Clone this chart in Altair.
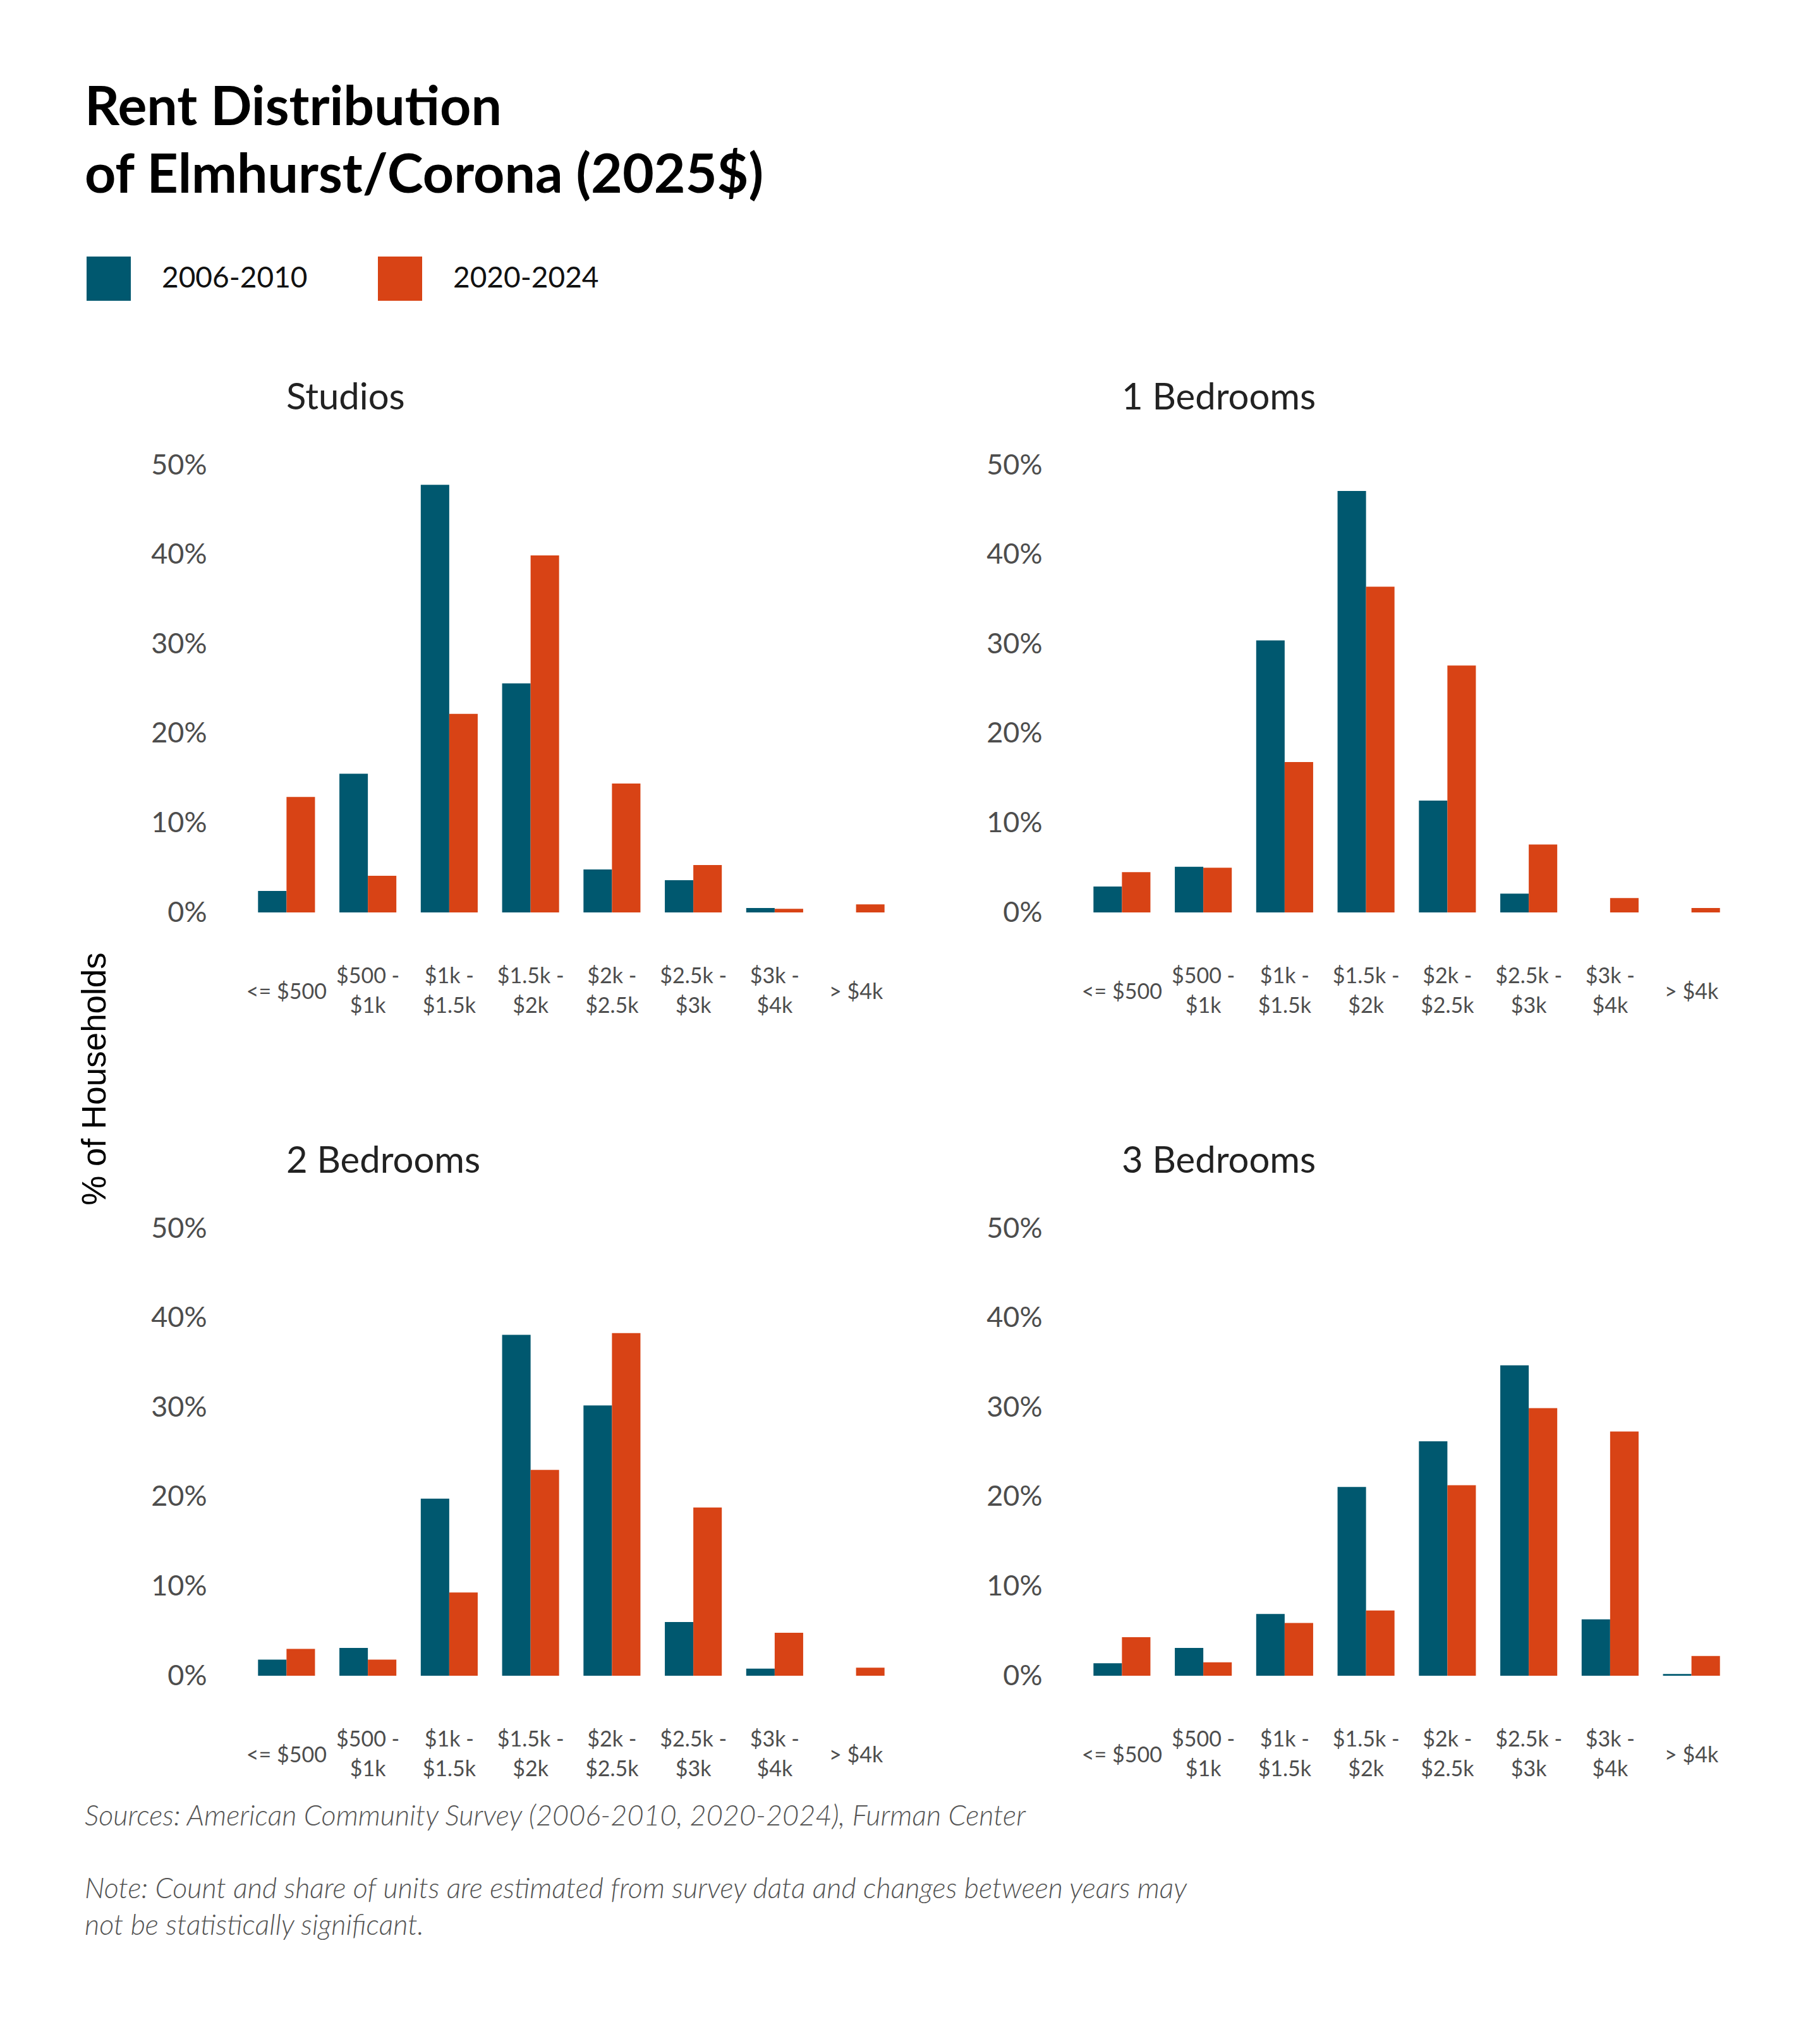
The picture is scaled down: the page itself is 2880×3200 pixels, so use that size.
import altair as alt
import pandas as pd

buckets = ["<= $500", "$500 - $1k", "$1k - $1.5k", "$1.5k - $2k",
           "$2k - $2.5k", "$2.5k - $3k", "$3k - $4k", "> $4k"]
periods = ["2006-2010", "2020-2024"]
panels = ["Studios", "1 Bedrooms", "2 Bedrooms", "3 Bedrooms"]

studios_2006 = [2.4, 15.5, 47.8, 25.6, 4.8, 3.6, 0.5, 0.0]
studios_2020 = [12.9, 4.1, 22.2, 39.9, 14.4, 5.3, 0.4, 0.9]
br1_2006 = [2.9, 5.1, 30.4, 47.1, 12.5, 2.1, 0.0, 0.0]
br1_2020 = [4.5, 5.0, 16.8, 36.4, 27.6, 7.6, 1.6, 0.5]
br2_2006 = [1.8, 3.1, 19.8, 38.1, 30.2, 6.0, 0.8, 0.0]
br2_2020 = [3.0, 1.8, 9.3, 23.0, 38.3, 18.8, 4.8, 0.9]
br3_2006 = [1.4, 3.1, 6.9, 21.1, 26.2, 34.7, 6.3, 0.2]
br3_2020 = [4.3, 1.5, 5.9, 7.3, 21.3, 29.9, 27.3, 2.2]

series = {
    "Studios": (studios_2006, studios_2020),
    "1 Bedrooms": (br1_2006, br1_2020),
    "2 Bedrooms": (br2_2006, br2_2020),
    "3 Bedrooms": (br3_2006, br3_2020),
}

note_lines = [
    "Sources: American Community Survey (2006-2010, 2020-2024), Furman Center",
    "Note: Count and share of units are estimated from survey data and changes between years may",
    "not be statistically significant.",
]
note_rows = [0, 2, 3]

title_lines = ["Rent Distribution", "of Elmhurst/Corona (2025$)"]

TEAL = "#00586f"
ORANGE = "#d84315"
PW, PH = 1030, 708

x_label_expr = ("indexof(datum.label, ' - ') >= 0 ? "
                "[slice(datum.label, 0, indexof(datum.label, ' - ') + 2), "
                "slice(datum.label, indexof(datum.label, ' - ') + 3)] : datum.label")

legend = alt.Legend(
    orient="none", legendX=-252, legendY=-330, direction="horizontal",
    title=None, symbolType="square", symbolSize=4900, symbolStrokeWidth=0,
    symbolOpacity=1, labelFontSize=46, labelFont="Lato", labelColor="#111111",
    labelOffset=49, labelLimit=0, columnPadding=111, padding=0,
)


def panel(i, name):
    a, b = series[name]
    df = pd.DataFrame({
        "bucket": buckets * 2,
        "period": [periods[0]] * len(buckets) + [periods[1]] * len(buckets),
        "share": a + b,
    })
    common = dict(
        values=[0, 10, 20, 30, 40, 50], labelExpr="datum.value + '%'",
        ticks=False, tickSize=0, domain=False, grid=False, labelPadding=62,
        labelFont="Lato", labelFontSize=45, labelColor="#4d4d4d",
    )
    if i == 0:
        yaxis = alt.Axis(
            title="% of Households", titleX=-239, titleY=971, titleAngle=270,
            titleAlign="center", titleBaseline="middle", titleFont="Liberation Sans",
            titleFontSize=53, titleFontWeight="normal", titleColor="#000000",
            **common,
        )
    else:
        yaxis = alt.Axis(title=None, **common)
    return alt.Chart(df).mark_bar().encode(
        x=alt.X("bucket:N", sort=buckets,
                scale=alt.Scale(paddingInner=0.3, paddingOuter=0.15),
                axis=alt.Axis(title=None, labelAngle=0, ticks=False, tickSize=0,
                              domain=False,
                              labelPadding={"condition": {
                                  "test": "indexof(datum.value, ' - ') < 0",
                                  "value": 126}, "value": 101},
                              labelBaseline="middle",
                              labelExpr=x_label_expr, labelLineHeight=47,
                              labelFont="Lato", labelFontSize=34,
                              labelColor="#4d4d4d")),
        xOffset=alt.XOffset("period:N", sort=periods),
        y=alt.Y("share:Q", scale=alt.Scale(domain=[0, 50], nice=False), axis=yaxis),
        color=alt.Color("period:N", scale=alt.Scale(domain=periods, range=[TEAL, ORANGE]),
                        legend=legend),
    ).properties(
        width=PW, height=PH,
        title=alt.TitleParams(text=name, anchor="start", frame="group", dx=64,
                              offset=8, fontSize=58, font="Lato",
                              fontWeight="normal", color="#222222",
                              baseline="alphabetic"),
    )


notes_df = pd.DataFrame({"line": note_lines, "row": note_rows})
footer = alt.Chart(notes_df).mark_text(
    align="left", baseline="alphabetic", font="Lato", fontStyle="italic",
    fontWeight=300, fontSize=45, color="#555555",
).encode(
    x=alt.value(-255),
    y=alt.Y("row:Q", scale=alt.Scale(domain=[0, 3], range=[-263, -90.5]), axis=None),
    text="line:N",
).properties(width=PW, height=10)

chart = alt.concat(
    panel(0, panels[0]), panel(1, panels[1]),
    panel(2, panels[2]), panel(3, panels[3]),
    footer,
    columns=2, spacing=alt.RowColnumber(row=500, column=292), bounds="flush",
).properties(
    title=alt.TitleParams(text=title_lines, anchor="start", frame="group", dx=-255,
                          offset=15, fontSize=86, font="Lato", fontWeight="bold",
                          color="#000000", lineHeight=107, baseline="alphabetic"),
    padding={"left": 116, "top": 121, "right": 60, "bottom": 60},
).configure_view(stroke=None)

chart.save("out.html", embed_options={"renderer": "svg", "actions": False})
